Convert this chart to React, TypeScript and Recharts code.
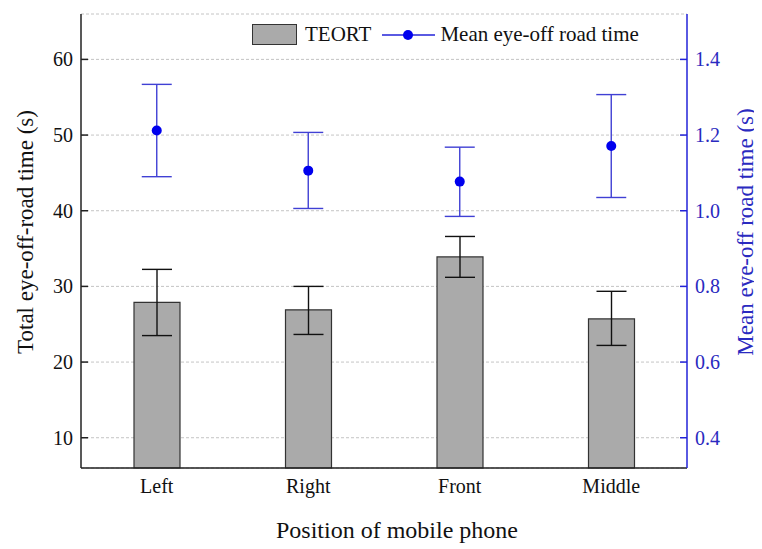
import React from 'react';
import {
  Bar,
  CartesianGrid,
  ComposedChart,
  ErrorBar,
  Label,
  Line,
  XAxis,
  YAxis,
} from 'recharts';

const categories = ['Left', 'Right', 'Front', 'Middle'];

// TEORT (left axis, s)
const teort = [27.9, 26.9, 33.9, 25.7];
const teortLow = [23.5, 23.65, 31.2, 22.2];
const teortHigh = [32.25, 30.0, 36.6, 29.35];

// mean eye-off road time (right axis, s)
const meanTime = [1.212, 1.106, 1.077, 1.171];
const meanLow = [1.09, 1.006, 0.985, 1.035];
const meanHigh = [1.334, 1.207, 1.168, 1.307];

const leftTicks = [10, 20, 30, 40, 50, 60];
const rightTicks = [0.4, 0.6, 0.8, 1.0, 1.2, 1.4];

const W = 754;
const H = 541;
const BLUE = '#2323d8';
const BLUE_TEXT = '#2a2ac0';
const FONT = 'Liberation Serif';

const chartData = categories.map((name, i) => ({
  name,
  teort: teort[i],
  teortErr: [teort[i] - teortLow[i], teortHigh[i] - teort[i]],
  mean: meanTime[i],
  meanErr: [meanTime[i] - meanLow[i], meanHigh[i] - meanTime[i]],
}));

function LeftTick(props: any) {
  const { x, y, payload } = props;
  return (
    <g>
      <line x1={x + 8} x2={x + 15} y1={y} y2={y} stroke="#222" strokeWidth={1.5} />
      <text x={x} y={y} dy="0.35em" textAnchor="end" fontSize={20} fill="#111" fontFamily={FONT}>
        {payload.value}
      </text>
    </g>
  );
}

function RightTick(props: any) {
  const { x, y, payload } = props;
  return (
    <g>
      <line x1={x - 15} x2={x - 8} y1={y} y2={y} stroke={BLUE} strokeWidth={1.5} />
      <text x={x} y={y} dy="0.35em" textAnchor="start" fontSize={20} fill={BLUE_TEXT} fontFamily={FONT}>
        {Number(payload.value).toFixed(1)}
      </text>
    </g>
  );
}

function ChartLegend() {
  return (
    <div
      style={{
        position: 'absolute',
        top: 15,
        left: 244,
        display: 'flex',
        alignItems: 'center',
        fontFamily: FONT,
        fontSize: 21,
        color: '#111',
        whiteSpace: 'nowrap',
        height: 23,
      }}
    >
      <div
        style={{
          width: 45,
          height: 21,
          background: '#aaaaaa',
          border: '1px solid #333',
          boxSizing: 'border-box',
          marginRight: 8,
        }}
      />
      <span style={{ marginRight: 11 }}>TEORT</span>
      <svg width={53} height={14} style={{ marginRight: 5 }}>
        <line x1={0} x2={53} y1={7} y2={7} stroke={BLUE} strokeWidth={1.5} />
        <circle cx={26} cy={7} r={5} fill="#0000ee" />
      </svg>
      <span>Mean eye-off road time</span>
    </div>
  );
}

export default function App() {
  return (
    <div style={{ position: 'relative', width: W, height: H, fontFamily: FONT }}>
      <ComposedChart
        width={W}
        height={H}
        data={chartData}
        margin={{ top: 6, right: 0, left: 0, bottom: 0 }}
      >
        <CartesianGrid
          yAxisId="left"
          vertical={false}
          stroke="#b5b5b5"
          strokeDasharray="3 2"
          strokeWidth={0.8}
        />
        <XAxis
          dataKey="name"
          tickLine={false}
          tickMargin={5}
          height={81}
          axisLine={{ stroke: '#222', strokeWidth: 1.5 }}
          tick={{ fill: '#111', fontSize: 20, fontFamily: FONT }}
        >
          <Label
            content={() => (
              <text x={389} y={530} textAnchor="middle" fontSize={24} fill="#111" fontFamily={FONT}>
                Position of mobile phone
              </text>
            )}
          />
        </XAxis>
        <XAxis
          xAxisId="top"
          dataKey="name"
          orientation="top"
          height={0}
          tick={false}
          tickLine={false}
          axisLine={{ stroke: '#222', strokeWidth: 1.5 }}
        />
        <YAxis
          yAxisId="left"
          width={73}
          domain={[6, 66]}
          ticks={leftTicks}
          tickLine={false}
          axisLine={{ stroke: '#222', strokeWidth: 1.5 }}
          tick={<LeftTick />}
        >
          <Label
            content={() => (
              <text
                x={25}
                y={224}
                transform="rotate(-90, 25, 224)"
                textAnchor="middle"
                fontSize={23}
                fill="#111"
                fontFamily={FONT}
              >
                Total eye-off-road time (s)
              </text>
            )}
          />
        </YAxis>
        <YAxis
          yAxisId="right"
          orientation="right"
          width={75}
          domain={[0.32, 1.52]}
          ticks={rightTicks}
          tickLine={false}
          axisLine={{ stroke: BLUE, strokeWidth: 1.5 }}
          tick={<RightTick />}
        >
          <Label
            content={() => (
              <text
                x={745}
                y={224}
                transform="rotate(-90, 745, 224)"
                textAnchor="middle"
                fontSize={23}
                fill={BLUE_TEXT}
                fontFamily={FONT}
              >
                Mean eye-off road time (s)
              </text>
            )}
          />
        </YAxis>
        <Bar
          yAxisId="left"
          dataKey="teort"
          name="TEORT"
          barSize={46}
          fill="#aaaaaa"
          stroke="#333"
          strokeWidth={1.2}
          isAnimationActive={false}
        >
          <ErrorBar dataKey="teortErr" width={15} stroke="#111" strokeWidth={1.4} />
        </Bar>
        <Line
          yAxisId="right"
          dataKey="mean"
          name="Mean eye-off road time"
          stroke="none"
          dot={{ r: 5, fill: '#0000ee', stroke: '#0000ee', strokeWidth: 0 }}
          activeDot={false}
          isAnimationActive={false}
        >
          <ErrorBar dataKey="meanErr" width={15} stroke="#4040d4" strokeWidth={1.4} />
        </Line>
      </ComposedChart>
      <ChartLegend />
    </div>
  );
}
